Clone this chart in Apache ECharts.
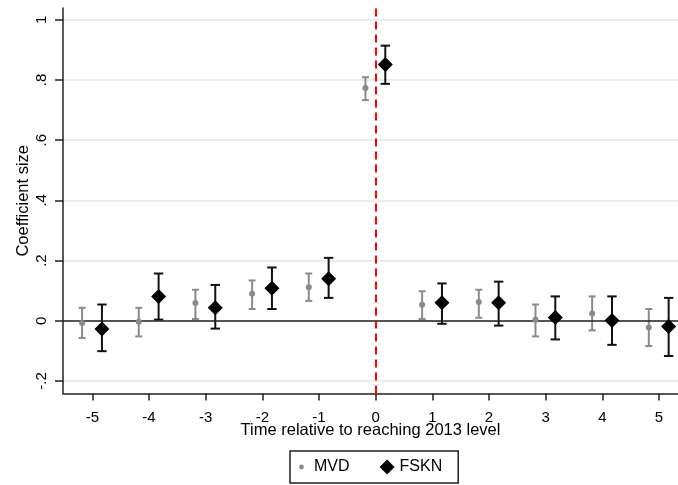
<!DOCTYPE html>
<html>
<head>
<meta charset="utf-8">
<script src="https://cdn.jsdelivr.net/npm/echarts@6/dist/echarts.min.js"></script>
<style>
html,body{margin:0;padding:0;background:#fff;}
#chart{width:678px;height:485px;}
</style>
</head>
<body>
<div id="chart"></div>
<script>
// ---- data ----
const periods = [-5, -4, -3, -2, -1, 0, 1, 2, 3, 4, 5];
const mvdCoef = [-0.007, -0.003, 0.059, 0.090, 0.111, 0.773, 0.053, 0.062, 0.003, 0.024, -0.022];
const mvdLow  = [-0.057, -0.052, 0.006, 0.039, 0.066, 0.733, 0.006, 0.010, -0.052, -0.032, -0.084];
const mvdHigh = [0.043, 0.043, 0.103, 0.134, 0.157, 0.809, 0.098, 0.103, 0.054, 0.081, 0.039];
const fsknCoef = [-0.027, 0.081, 0.043, 0.108, 0.140, 0.851, 0.060, 0.060, 0.011, 0.001, -0.019];
const fsknLow  = [-0.101, 0.004, -0.026, 0.039, 0.076, 0.787, -0.010, -0.016, -0.062, -0.080, -0.117];
const fsknHigh = [0.054, 0.157, 0.119, 0.177, 0.209, 0.914, 0.124, 0.130, 0.081, 0.081, 0.076];
const xTickValues = [-5, -4, -3, -2, -1, 0, 1, 2, 3, 4, 5];
const xTickLabels = ['-5', '-4', '-3', '-2', '-1', '0', '1', '2', '3', '4', '5'];
const yTickValues = [-0.2, 0, 0.2, 0.4, 0.6, 0.8, 1];
const yTickLabels = ['-.2', '0', '.2', '.4', '.6', '.8', '1'];
const seriesNames = ['MVD', 'FSKN'];
const xTitle = 'Time relative to reaching 2013 level';
const yTitle = 'Coefficient size';

// ---- layout / style ----
const mvdOffset = -0.18, fsknOffset = 0.17;
const FONT = '"Liberation Sans", Arial, sans-serif';
const mvdColor = '#8a8a8a', fsknColor = '#000000';

const mvdPts = periods.map((p, i) => [p + mvdOffset, mvdCoef[i]]);
const fsknPts = periods.map((p, i) => [p + fsknOffset, fsknCoef[i]]);
const mvdBars = periods.map((p, i) => [p + mvdOffset, mvdLow[i], mvdHigh[i]]);
const fsknBars = periods.map((p, i) => [p + fsknOffset, fsknLow[i], fsknHigh[i]]);

function errRender(color, cap, width) {
  return function (params, api) {
    const x = api.value(0), lo = api.value(1), hi = api.value(2);
    const a = api.coord([x, hi]), b = api.coord([x, lo]);
    const st = { stroke: color, lineWidth: width };
    return {
      type: 'group',
      children: [
        { type: 'line', shape: { x1: a[0], y1: a[1], x2: b[0], y2: b[1] }, style: st },
        { type: 'line', shape: { x1: a[0] - cap, y1: a[1], x2: a[0] + cap, y2: a[1] }, style: st },
        { type: 'line', shape: { x1: b[0] - cap, y1: b[1], x2: b[0] + cap, y2: b[1] }, style: st }
      ]
    };
  };
}

const chart = echarts.init(document.getElementById('chart'), null, { renderer: 'canvas' });
chart.setOption({
  animation: false,
  backgroundColor: '#ffffff',
  textStyle: { fontFamily: FONT },
  grid: { left: 63, right: 0, top: 8, bottom: 91.5, containLabel: false },
  xAxis: {
    type: 'value', min: -5.517, max: 5.335,
    name: xTitle, nameLocation: 'middle', nameGap: 28, nameMoveOverlap: false,
    nameTextStyle: { fontSize: 16.5, color: '#000', fontFamily: FONT },
    axisLine: { show: true, onZero: false, lineStyle: { color: '#222', width: 1.5 } },
    axisTick: { show: true, length: 7, lineStyle: { color: '#222', width: 1.5 }, customValues: xTickValues },
    axisLabel: {
      fontSize: 15, color: '#000', margin: 17, fontFamily: FONT, customValues: xTickValues,
      formatter: v => { const k = xTickValues.findIndex(t => Math.abs(t - v) < 1e-6); return k >= 0 ? xTickLabels[k] : ''; }
    },
    splitLine: { show: false }
  },
  yAxis: {
    type: 'value', min: -0.2416, max: 1.039,
    name: yTitle, nameLocation: 'middle', nameGap: 31, nameMoveOverlap: false,
    nameTextStyle: { fontSize: 16.5, color: '#000', fontFamily: FONT },
    axisLine: { show: true, onZero: false, lineStyle: { color: '#222', width: 1.5 } },
    axisTick: { show: true, length: 8, lineStyle: { color: '#222', width: 1.5 }, customValues: yTickValues },
    axisLabel: {
      fontSize: 15, color: '#000', margin: 14, rotate: 90, fontFamily: FONT, customValues: yTickValues,
      formatter: v => { const k = yTickValues.findIndex(t => Math.abs(t - v) < 1e-6); return k >= 0 ? yTickLabels[k] : ''; }
    },
    splitLine: { show: true, lineStyle: { color: '#e6e6e6', width: 1.5 } }
  },
  legend: {
    data: [
      { name: seriesNames[0], icon: 'path://M0,0L0.01,0L0,0.01Z M20,20L19.99,20L20,19.99Z M13.2,10A3.2,3.2 0 1 1 6.8,10A3.2,3.2 0 1 1 13.2,10Z' },
      { name: seriesNames[1], icon: 'diamond' }
    ],
    left: 290, top: 451,
    orient: 'horizontal',
    itemWidth: 15, itemHeight: 15, itemGap: 30,
    padding: [8, 16, 8, 4],
    borderColor: '#222', borderWidth: 1.5,
    backgroundColor: '#fff',
    textStyle: { fontSize: 16, color: '#000', fontFamily: FONT }
  },
  series: [
    {
      type: 'line', data: [], silent: true, z: 1,
      markLine: {
        silent: true, symbol: 'none', animation: false, label: { show: false },
        data: [
          { yAxis: 0, lineStyle: { color: '#222', width: 1.5, type: 'solid' } },
          { xAxis: 0, lineStyle: { color: '#ff0000', width: 2, type: [8, 5] } }
        ]
      }
    },
    {
      type: 'custom', name: 'mvdErr', data: mvdBars, z: 3,
      renderItem: errRender(mvdColor, 3.5, 2),
      encode: { x: 0, y: [1, 2] }
    },
    {
      type: 'custom', name: 'fsknErr', data: fsknBars, z: 3,
      renderItem: errRender('#111', 4.7, 2),
      encode: { x: 0, y: [1, 2] }
    },
    {
      type: 'scatter', name: seriesNames[0], data: mvdPts, z: 5,
      symbol: 'circle', symbolSize: 6,
      itemStyle: { color: mvdColor, opacity: 1 }
    },
    {
      type: 'scatter', name: seriesNames[1], data: fsknPts, z: 5,
      symbol: 'diamond', symbolSize: 15,
      itemStyle: { color: fsknColor, opacity: 1 }
    }
  ]
});
</script>
</body>
</html>
